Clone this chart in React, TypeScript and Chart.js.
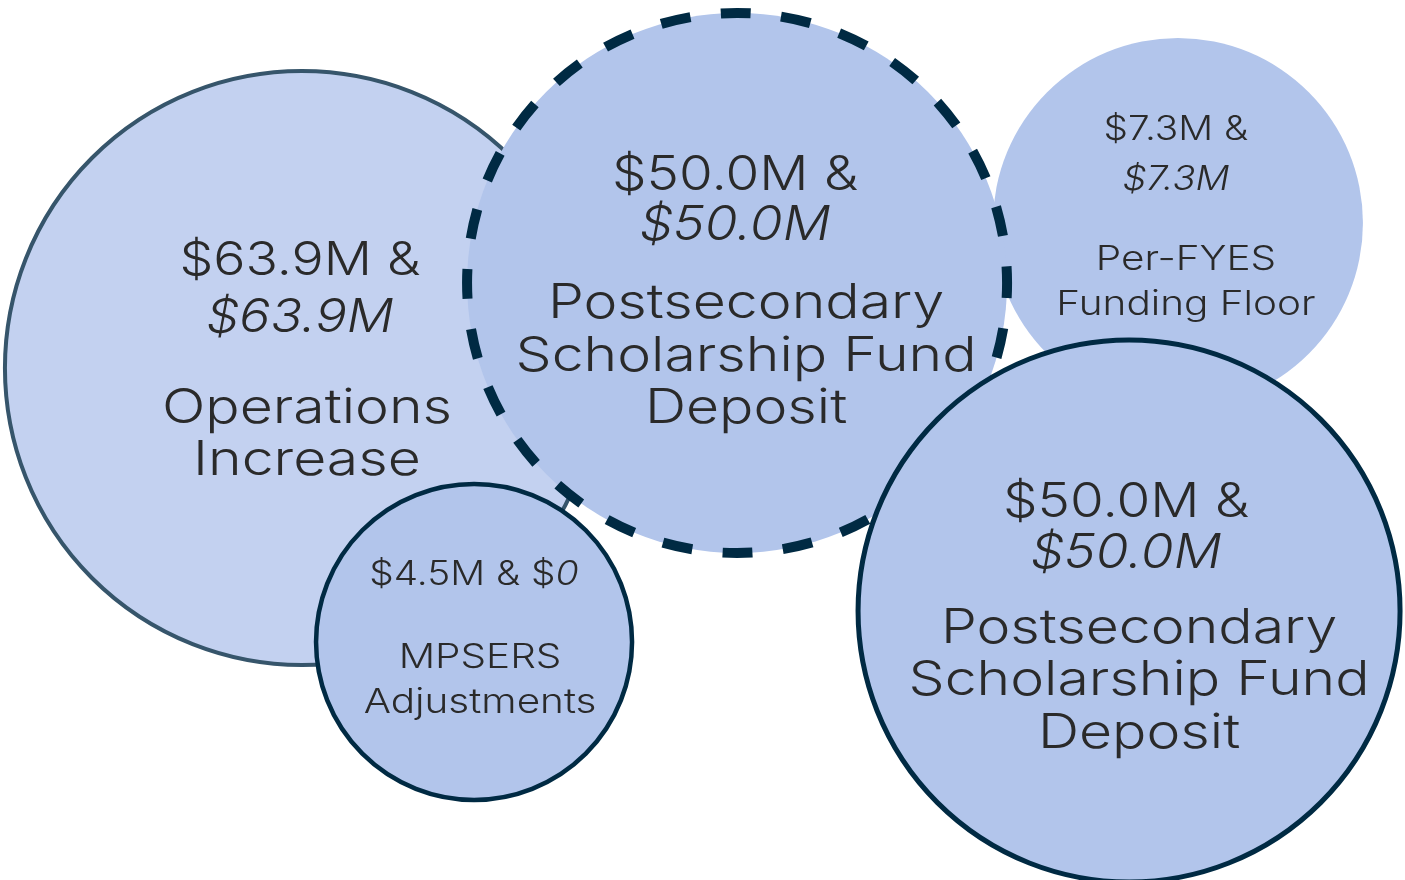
import { useEffect, useRef } from "react";
import { Chart, registerables } from "chart.js";

Chart.register(...registerables);

// Bubbles listed from bottom-most to top-most drawing layer
const bubbleKeys = ["operations", "fyesFloor", "scholarshipA", "scholarshipB", "mpsers"];
const xValues = [21.49, 83.84, 52.46, 80.36, 33.74]; // percent of width
const yValues = [41.82, 25.34, 32.16, 69.43, 72.95]; // percent of height
const radii = [297, 185, 270, 271, 158]; // pixels
const proposedAmounts = ["$63.9M", "$7.3M", "$50.0M", "$50.0M", "$4.5M"];
const enactedAmounts = ["$63.9M", "$7.3M", "$50.0M", "$50.0M", "$0"];
const descriptions = [
  ["Operations", "Increase"],
  ["Per-FYES", "Funding Floor"],
  ["Postsecondary", "Scholarship Fund", "Deposit"],
  ["Postsecondary", "Scholarship Fund", "Deposit"],
  ["MPSERS", "Adjustments"],
];

// Styling (kept separate from data)
const fills = ["#c3d1f0", "#b2c5eb", "#b2c5eb", "#b2c5eb", "#b2c5eb"];
const borders = ["#36556b", "rgba(0,0,0,0)", "#002a43", "#002a43", "#002a43"];
const borderWidths = [4, 0, 10, 5, 4.5];
const dashed = [false, false, true, false, false];
const inlineAmount = [false, false, false, false, true];
const amountSizes = [47, 34, 48, 48, 34];
const descSizes = [48, 34, 48, 48, 34];
const firstBaseline = [-93, -83, -93, -94, -57];
const amountLineH = [57, 50, 50, 51, 0];
const descGap = [91, 80, 78, 75, 83];
const descLineH = [52, 45, 52.5, 52.5, 45];
const amountShiftX = [-2, -2, -2, -3, 0];
const descShiftX = [5, 8, 9, 10, 6];

const FONT_FAMILY = "Inter";
const FONT_WEIGHT = 300;
const TEXT_COLOR = "#2a2a2a";
const STRETCH_AMOUNT = 1.14;
const STRETCH_ITALIC = 1.11;
const STRETCH_DESC = 1.19;

function fontStr(size: number, italic: boolean) {
  return `${italic ? "italic " : ""}${FONT_WEIGHT} ${size}px ${FONT_FAMILY}`;
}

type Seg = [string, boolean, number];

function drawSegments(ctx: CanvasRenderingContext2D, segs: Seg[], cx: number, y: number, size: number) {
  let total = 0;
  const widths = segs.map(([t, it, sx]) => {
    ctx.font = fontStr(size, it);
    const w = ctx.measureText(t).width * sx;
    total += w;
    return w;
  });
  let x = cx - total / 2;
  segs.forEach(([t, it, sx], i) => {
    ctx.font = fontStr(size, it);
    ctx.save();
    ctx.translate(x, y);
    ctx.scale(sx, 1);
    ctx.fillText(t, 0, 0);
    ctx.restore();
    x += widths[i];
  });
}

const dashPlugin = {
  id: "dashBorder",
  beforeDatasetDraw(chart: any, args: any) {
    const ctx = chart.ctx;
    ctx.save();
    if (dashed[args.index]) {
      ctx.setLineDash([30, 30.5]);
      ctx.lineDashOffset = 15;
    }
  },
  afterDatasetDraw(chart: any) {
    chart.ctx.restore();
  },
};

const labelPlugin = {
  id: "bubbleLabels",
  afterDatasetsDraw(chart: any) {
    const ctx = chart.ctx as CanvasRenderingContext2D;
    ctx.save();
    ctx.fillStyle = TEXT_COLOR;
    ctx.textAlign = "left";
    ctx.textBaseline = "alphabetic";
    bubbleKeys.forEach((_, i) => {
      const el = chart.getDatasetMeta(i).data[0];
      if (!el) return;
      const cx = el.x;
      const cy = el.y;
      const ax = cx + amountShiftX[i];
      const dx = cx + descShiftX[i];
      let y = cy + firstBaseline[i];
      if (inlineAmount[i]) {
        drawSegments(
          ctx,
          [
            [proposedAmounts[i] + " & " + enactedAmounts[i].slice(0, 1), false, STRETCH_AMOUNT],
            [enactedAmounts[i].slice(1), true, STRETCH_ITALIC],
          ],
          ax,
          y,
          amountSizes[i]
        );
      } else {
        drawSegments(ctx, [[proposedAmounts[i] + " &", false, STRETCH_AMOUNT]], ax, y, amountSizes[i]);
        y += amountLineH[i];
        drawSegments(ctx, [[enactedAmounts[i], true, STRETCH_ITALIC]], ax, y, amountSizes[i]);
      }
      y += descGap[i];
      descriptions[i].forEach((line, j) => {
        drawSegments(ctx, [[line, false, STRETCH_DESC]], dx, y + j * descLineH[i], descSizes[i]);
      });
    });
    ctx.restore();
  },
};

export default function App() {
  const canvasRef = useRef<HTMLCanvasElement | null>(null);

  useEffect(() => {
    document.body.style.margin = "0";
    const canvas = canvasRef.current;
    if (!canvas) return;
    const chart = new Chart(canvas, {
      type: "bubble",
      data: {
        datasets: bubbleKeys.map((key, i) => ({
          label: key,
          data: [{ x: xValues[i], y: yValues[i], r: radii[i] }],
          backgroundColor: fills[i],
          borderColor: borders[i],
          borderWidth: borderWidths[i],
          hoverBorderWidth: borderWidths[i],
          order: bubbleKeys.length - 1 - i,
          clip: false as any,
        })),
      },
      options: {
        responsive: false,
        animation: false,
        events: [],
        layout: { padding: 0, autoPadding: false },
        plugins: {
          legend: { display: false },
          tooltip: { enabled: false },
        },
        scales: {
          x: { type: "linear", min: 0, max: 100, display: false },
          y: { type: "linear", min: 0, max: 100, reverse: true, display: false },
        },
      },
      plugins: [dashPlugin, labelPlugin],
    });
    return () => chart.destroy();
  }, []);

  return (
    <div style={{ width: 1405, height: 880, background: "#ffffff", overflow: "hidden" }}>
      <canvas ref={canvasRef} width={1405} height={880} style={{ display: "block" }} />
    </div>
  );
}
